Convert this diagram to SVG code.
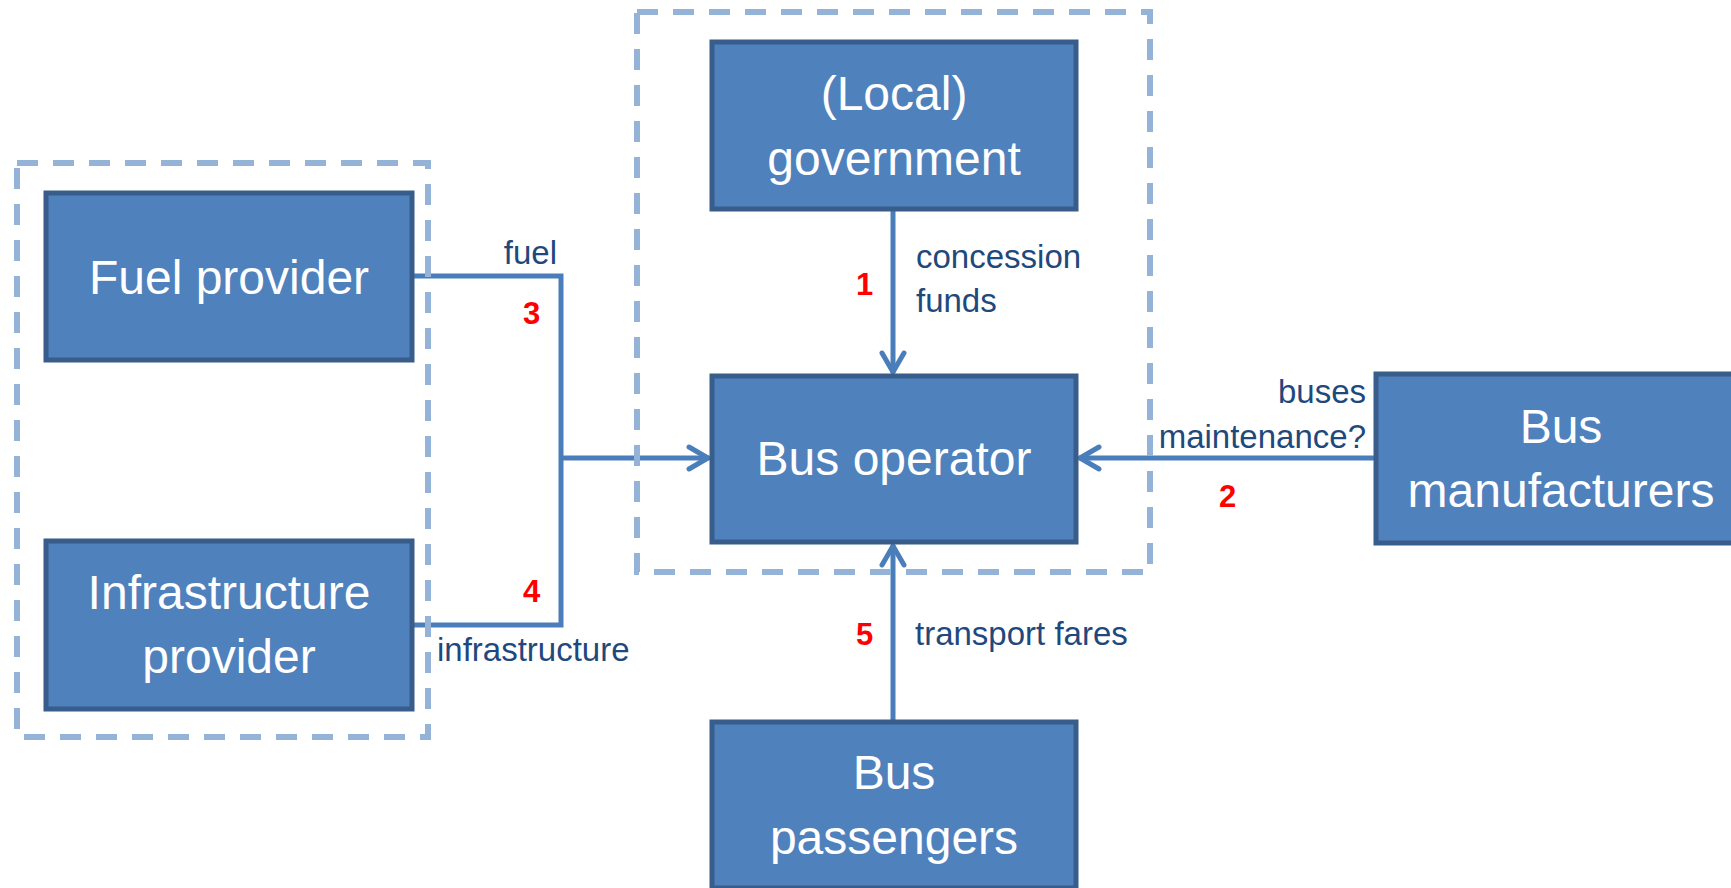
<svg xmlns="http://www.w3.org/2000/svg" width="1731" height="888" viewBox="0 0 1731 888">
<style>
.node rect{fill:#4F81BD;stroke:#385D8A;stroke-width:5}
.node text{font-family:"Liberation Sans",Arial,sans-serif;font-size:48px;fill:#FFFFFF;text-anchor:middle}
.conn{fill:none;stroke:#4A7EBB;stroke-width:5}
.group{fill:none;stroke:#95B3D7;stroke-width:6;stroke-dasharray:21 15}
.lbl{font-family:"Liberation Sans",Arial,sans-serif;font-size:33px;fill:#1F497D}
.num{font-family:"Liberation Sans",Arial,sans-serif;font-size:31px;font-weight:bold;fill:#FF0000}
</style>
<defs>
<marker id="arr" markerUnits="userSpaceOnUse" viewBox="-26 -14 30 28" markerWidth="30" markerHeight="28" refX="0" refY="0" orient="auto">
<path d="M-20,-11 L-1,0 L-20,11" fill="none" stroke="#4A7EBB" stroke-width="5" stroke-linecap="round"/>
</marker>
</defs>
<rect width="1731" height="888" fill="#FFFFFF"/>
<g id="connectors">
<path class="conn" d="M412,276 H561 V625 H412"/>
<path class="conn" d="M561,458 H709" marker-end="url(#arr)"/>
<path class="conn" d="M893,209 V373" marker-end="url(#arr)"/>
<path class="conn" d="M1376,458 H1079" marker-end="url(#arr)"/>
<path class="conn" d="M893,722 V545" marker-end="url(#arr)"/>
</g>
<g id="groups">
<rect class="group" x="17" y="163" width="411" height="574"/>
<rect class="group" x="637" y="12" width="513" height="560"/>
</g>
<g id="fuel-provider" class="node">
<rect x="46" y="193" width="366" height="167"/>
<text x="229" y="294">Fuel provider</text>
</g>
<g id="infrastructure-provider" class="node">
<rect x="46" y="541" width="366" height="168"/>
<text x="229" y="609">Infrastructure</text>
<text x="229" y="673">provider</text>
</g>
<g id="local-government" class="node">
<rect x="712" y="42" width="364" height="167"/>
<text x="894" y="110">(Local)</text>
<text x="894" y="175">government</text>
</g>
<g id="bus-operator" class="node">
<rect x="712" y="376" width="364" height="166"/>
<text x="894" y="475">Bus operator</text>
</g>
<g id="bus-manufacturers" class="node">
<rect x="1376" y="374" width="368" height="169"/>
<text x="1561" y="443">Bus</text>
<text x="1561" y="507">manufacturers</text>
</g>
<g id="bus-passengers" class="node">
<rect x="712" y="722" width="364" height="166"/>
<text x="894" y="789">Bus</text>
<text x="894" y="854">passengers</text>
</g>
<g id="labels">
<text class="lbl" x="557" y="264" text-anchor="end">fuel</text>
<text class="lbl" x="437" y="661">infrastructure</text>
<text class="lbl" x="916" y="268">concession</text>
<text class="lbl" x="916" y="312">funds</text>
<text class="lbl" x="1366" y="403" text-anchor="end">buses</text>
<text class="lbl" x="1366" y="448" text-anchor="end">maintenance?</text>
<text class="lbl" x="915" y="645">transport fares</text>
<text class="num" x="523" y="324">3</text>
<text class="num" x="523" y="602">4</text>
<text class="num" x="856" y="295">1</text>
<text class="num" x="1219" y="507">2</text>
<text class="num" x="856" y="645">5</text>
</g>
</svg>
